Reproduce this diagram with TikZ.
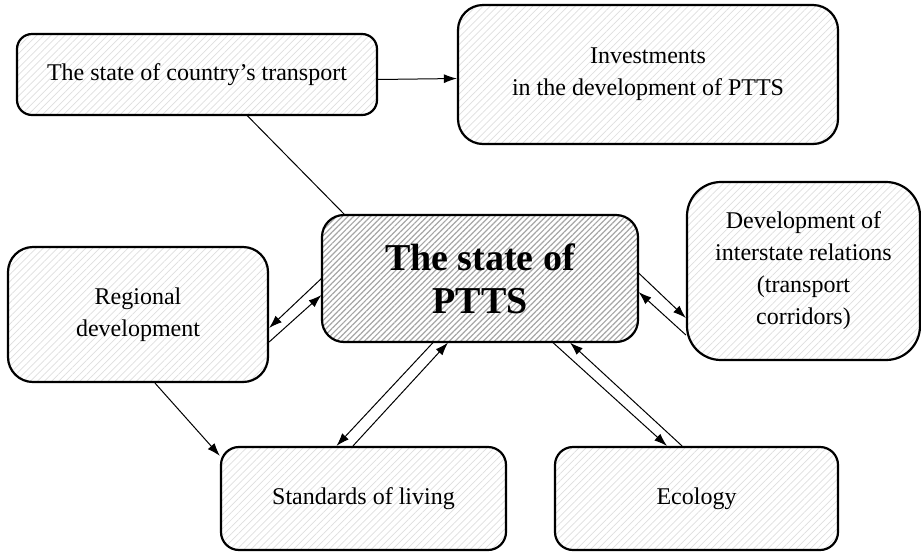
\documentclass[tikz,border=0pt]{standalone}
\usepackage{fontspec}
\setmainfont{Liberation Serif}
\usetikzlibrary{arrows.meta,patterns.meta}

\begin{document}
\begin{tikzpicture}[x=0.5pt,y=-0.5pt,
	factor/.style={ draw, line width=1.1pt, inner sep=0pt, align=center,
		font=\fontsize{12}{16}\selectfont,
		pattern={Lines[angle=45,distance=2.5pt,line width=0.35pt]}, pattern color=black!13 },
	core/.style={ factor, font=\fontsize{19}{21.5}\selectfont\bfseries,
		pattern={Lines[angle=45,distance=2pt,line width=0.6pt]}, pattern color=black!35 },
	link/.style={ line width=0.5pt, -{Latex[length=6.5pt,width=4.5pt]} }
]

\useasboundingbox (0,0) rectangle (921,553);

\node at (197,74.5) (trans) [factor, minimum width=180pt, minimum height=40.5pt, rounded corners=7.5pt]
  {The state of country's transport};
\node at (648,74.5) (invest) [factor, minimum width=190pt, minimum height=69.5pt, rounded corners=12.5pt]
  {Investments\\in the development of PTTS};
\node at (480,278.5) (central) [core, minimum width=158pt, minimum height=63.5pt, rounded corners=11pt]
  {The state of\\PTTS};
\node at (138,314.5) (region) [factor, minimum width=130pt, minimum height=67.5pt, rounded corners=12.5pt]
  {Regional\\development};
\node at (803.5,271) (inter) [factor, minimum width=116.5pt, minimum height=89pt, rounded corners=17pt]
  {Development of\\interstate relations\\(transport\\corridors)};
\node at (363.5,498.5) (living) [factor, minimum width=142.5pt, minimum height=51.5pt, rounded corners=9pt]
  {Standards of living};
\node at (696.5,498.5) (ecology) [factor, minimum width=141.5pt, minimum height=51.5pt, rounded corners=9pt]
  {Ecology};

\draw[link] ([yshift=-2.5pt]trans.east) -- ([yshift=-2pt]invest.west);
\draw[line width=0.5pt] ([xshift=25pt]trans.south) -- ([xshift=11.5pt]central.north west);
\draw[link] (central.west) -- ([yshift=-6.75pt]region.east);
\draw[link] ([yshift=-13.75pt]region.east) -- ([yshift=-8.25pt]central.west);
\draw[link] ([xshift=8.5pt]region.south) -- ([yshift=-5pt]living.north west);
\draw[link] ([xshift=-23.5pt]central.south) -- ([xshift=-13.5pt]living.north);
\draw[link] ([xshift=-5.25pt]living.north) -- ([xshift=-16pt]central.south);
\draw[link] ([xshift=36.5pt]central.south) -- ([xshift=-14.75pt]ecology.north);
\draw[link] ([xshift=-7.25pt]ecology.north) -- ([xshift=45pt]central.south);
\draw[link] ([yshift=2.75pt]central.east) -- ([yshift=-23.5pt]inter.west);
\draw[link] ([yshift=-32pt]inter.west) -- ([yshift=-6.75pt]central.east);

\end{tikzpicture}
\end{document}
